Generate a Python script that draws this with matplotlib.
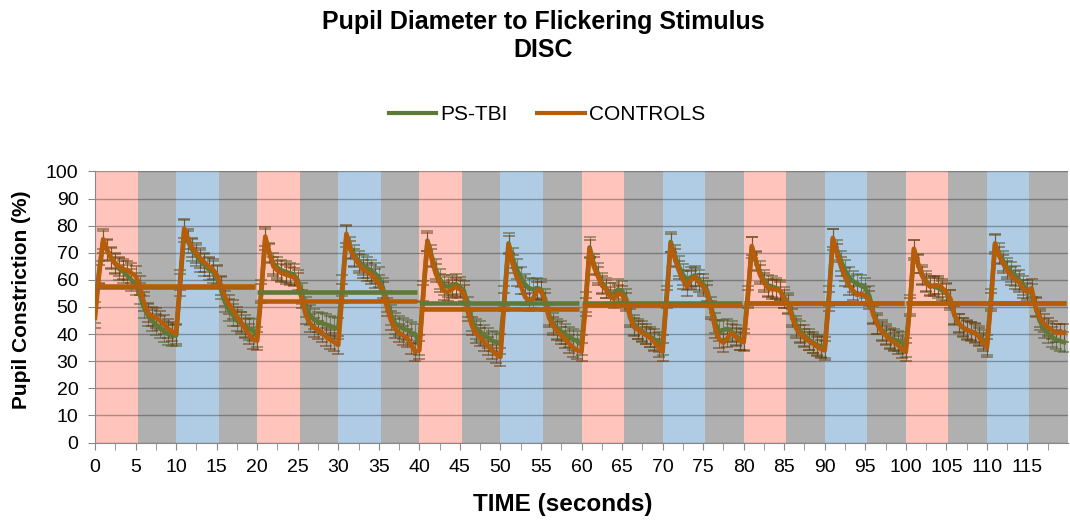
import numpy as np
import matplotlib
matplotlib.use('Agg')
import matplotlib.pyplot as plt
from matplotlib.lines import Line2D

plt.rcParams['font.family'] = ['Liberation Sans', 'DejaVu Sans']

# sampling of the traces (seconds)
sample_interval = 0.5

# PS-TBI mean pupil constriction (%), one row = 5 s
tbi_pct = [
  48, 63, 74, 71, 68, 66, 64, 63, 61.5, 60,
  58.5, 55, 50, 47, 45, 43.5, 42.5, 41, 40, 39.5,
  39.5, 58, 78, 74, 71, 69, 67, 65.5, 64, 63,
  61, 57, 52, 49, 47, 45, 44, 43, 42, 41.5,
  39, 56, 75, 70, 66, 64.5, 63.5, 63, 62.5, 62,
  60, 55, 50, 47, 45.5, 44.5, 44, 43.5, 43, 42.5,
  42, 58, 76, 72, 69, 67, 65.5, 64.5, 63.5, 62.5,
  61, 57, 52, 47, 44, 43, 42, 41.5, 40.5, 40,
  36, 56, 74.5, 69, 64, 60.5, 58, 57.5, 58, 58.5,
  57.5, 56, 50, 45, 42, 41, 39.5, 38.5, 37.5, 37,
  36.5, 54, 73.5, 68, 64, 61, 58.5, 57, 56.5, 57,
  56.5, 53, 47, 44, 42, 41, 40, 39, 38, 37.5,
  36, 52, 72, 66, 62.5, 59, 57, 55, 55, 56.5,
  56, 53, 47, 43.5, 42, 41, 40, 39, 38, 37,
  36, 54, 74, 69, 65, 62, 60, 61, 61.5, 60,
  58.5, 56, 50, 44, 41, 41.5, 42, 41, 39.5, 38,
  38, 54, 72, 67, 63, 60, 58, 57.5, 57, 56,
  53.5, 51.5, 47, 43, 41, 39.5, 38, 37, 36, 35.5,
  35, 54, 75, 71, 67, 63.5, 61, 59.5, 58.5, 58,
  57, 54, 48, 44, 41.5, 40, 38.5, 38, 37.5, 37,
  35, 51, 71, 66, 62, 59.5, 58, 57.5, 57, 56,
  55, 52.5, 47, 44, 42.5, 41.5, 41, 40.5, 39.5, 38,
  36, 53, 73, 70, 67, 64.5, 63, 61.5, 60, 58,
  56.5, 55, 50, 45, 42, 40.5, 39, 38, 37.5, 37,
]

# CONTROLS mean pupil constriction (%)
ctl_pct = [
  46, 62, 75, 71, 68, 66, 65, 64, 63.5, 62.5,
  61.5, 58, 52, 48, 46.5, 46, 45, 43.5, 42, 41,
  40, 60, 79, 75, 72, 70, 68, 66.5, 65, 64,
  62, 58, 54, 51, 49, 46.5, 44.5, 42, 40, 38,
  37.5, 55, 76, 70, 65, 63.5, 62.5, 62, 61.5, 61,
  59, 53, 47, 44, 42.5, 41.5, 40.5, 39, 38, 37,
  36, 55, 77, 71, 68, 66, 64, 63, 62, 60.5,
  58.5, 56, 50, 45, 42, 40.5, 39.5, 38.5, 36, 33.5,
  34, 55, 74, 68, 62.5, 59, 56, 55.5, 56.5, 57.5,
  56.5, 55, 48, 43, 40, 39, 37, 35.5, 34, 32.5,
  31.5, 52, 73, 66, 61, 58, 54, 52, 53, 56,
  56, 52, 46, 43, 41, 39.5, 38, 36.5, 35, 34,
  33.5, 50, 71.5, 65, 61.5, 58, 56.5, 54, 53, 55,
  54.5, 52, 46, 42.5, 41.5, 40.5, 39.5, 38.5, 37, 35,
  33.5, 53, 73.5, 68, 63.5, 60, 57.5, 60, 61, 59,
  57.5, 55, 49, 42, 38, 36.8, 38.5, 40.5, 39, 37.5,
  37, 53, 72.5, 67, 62, 59, 57, 56.5, 56.5, 56,
  53, 51, 46, 42, 40, 38.5, 37.5, 36.5, 35.5, 34.5,
  34, 52, 75.5, 70, 65, 61, 58, 56, 54.5, 55,
  54, 52.5, 47, 43.5, 41, 39.5, 38, 37, 36, 34.5,
  33.5, 50, 71.5, 66, 61.5, 59, 57.5, 58, 58, 57,
  55.5, 53, 47, 44, 42.5, 41.5, 41, 40.5, 39, 37,
  35, 52, 73.5, 69, 66, 63.5, 61.5, 60, 59, 56.5,
  55.5, 57, 50, 46, 44, 42.5, 41.5, 40.5, 40.5, 40.5,
]

# standard error per 20 s block
tbi_sem = [4.0, 3.8, 3.7, 3.7, 3.8, 3.6]
ctl_sem = [3.6, 3.4, 3.3, 3.3, 3.4, 3.3]

# block means (horizontal lines)
block_edges = [0, 20, 40, 60, 80, 100, 120]
tbi_block_mean = [57.2, 55.4, 51.5, 51.4, 51.3, 51.3]
ctl_block_mean = [57.7, 52.3, 49.2, 50.6, 51.3, 51.3]

# stimulus periods
stim_onsets = [0, 10, 20, 30, 40, 50, 60, 70, 80, 90, 100, 110]
stim_kind = ['red', 'blue'] * 6
stim_on_s = 5.25

green = '#5f7a38'
orange = '#b55d0a'
band_col = {'red': '#ffc4bb', 'blue': '#b0cbe4'}

times = np.arange(len(ctl_pct)) * sample_interval
per_block = len(ctl_pct) // len(tbi_sem)
tbi_err = np.repeat(tbi_sem, per_block)
ctl_err = np.repeat(ctl_sem, per_block)

W, H = 1070, 520
fig = plt.figure(figsize=(W / 100, H / 100), dpi=100)
ax = fig.add_axes([95 / W, 1 - 442.5 / H, (1068 - 95) / W, (442.5 - 171.5) / H])
ax.set_facecolor('#b0b0b0')
for t0, k in zip(stim_onsets, stim_kind):
  ax.axvspan(t0, t0 + stim_on_s, color=band_col[k], lw=0, zorder=0.2)

ax.set_axisbelow(True)
ax.yaxis.grid(True, color='black', alpha=0.3, lw=1)

ax.errorbar(times, tbi_pct, yerr=tbi_err, fmt='none', ecolor='#4e5a24',
            elinewidth=0.8, capsize=4.6, capthick=1.2, alpha=0.6, zorder=2)
ax.errorbar(times, ctl_pct, yerr=ctl_err, fmt='none', ecolor='#6e3a0c',
            elinewidth=0.8, capsize=4.6, capthick=1.2, alpha=0.6, zorder=2)
ax.plot(times, tbi_pct, color=green, lw=3.3, zorder=3)
ax.plot(times, ctl_pct, color=orange, lw=3.3, zorder=4)

starts = block_edges[:-1]
ends = [e - 0.25 for e in block_edges[1:]]
ax.hlines(tbi_block_mean, starts, ends, color=green, lw=3.3, zorder=5)
ax.hlines(ctl_block_mean, starts, ends, color=orange, lw=3.3, zorder=6)

ax.set_xlim(0, 120)
ax.set_ylim(0, 100)
ax.set_yticks(range(0, 101, 10))
ax.set_xticks(np.arange(0, 120, 5))
ax.set_xticks(np.arange(2.5, 120, 5), minor=True)
ax.tick_params(axis='both', which='both', direction='out', length=5,
               color='#888888', labelsize=14)
ax.tick_params(axis='y', pad=7)
ax.tick_params(axis='x', pad=7)
for s in ['top', 'right']:
  ax.spines[s].set_visible(False)
for s in ['left', 'bottom']:
  ax.spines[s].set_color('#888888')

fig.text(543 / W, 1 - 22 / H, 'Pupil Diameter to Flickering Stimulus',
         ha='center', va='center', fontsize=18, weight='bold')
fig.text(543 / W, 1 - 50 / H, 'DISC', ha='center', va='center',
         fontsize=18, weight='bold')
fig.text(22 / W, 1 - 300 / H, 'Pupil Constriction (%)', rotation=90,
         ha='center', va='center', fontsize=15, weight='bold')
fig.text(563 / W, 1 - 505 / H, 'TIME (seconds)', ha='center', va='center',
         fontsize=17.5, weight='bold')

handles = [Line2D([], [], color=green, lw=3), Line2D([], [], color=orange, lw=3)]
fig.legend(handles, ['PS-TBI', 'CONTROLS'], loc='center',
           bbox_to_anchor=(547 / W, 1 - 115 / H), ncol=2, frameon=False,
           fontsize=15, handlelength=2.3, handletextpad=0.2, columnspacing=1.4)

fig.savefig('out.png', dpi=100)
